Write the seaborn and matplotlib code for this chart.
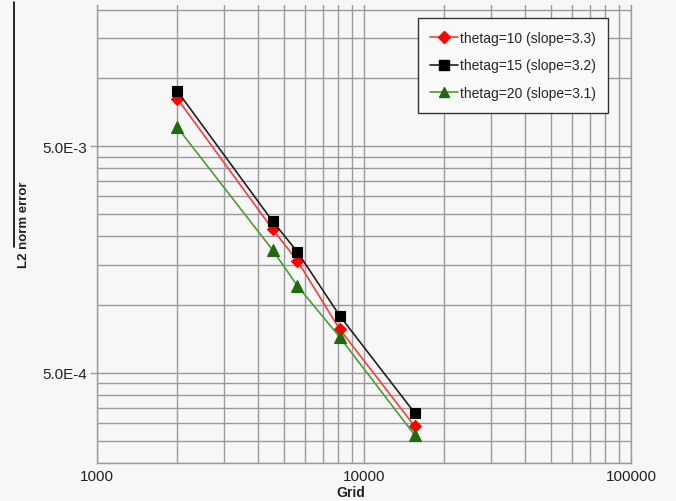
import matplotlib
matplotlib.use("Agg")
import matplotlib.pyplot as plt
from matplotlib.lines import Line2D
from matplotlib.ticker import FixedLocator, FixedFormatter, NullFormatter
import seaborn as sns
import pandas as pd

# Grid sizes and L2 error norms for each thetag value
grid = [2000, 4550, 5630, 8100, 15500]
err_thetag10 = [8.1e-3, 2.15e-3, 1.56e-3, 7.8e-4, 2.9e-4]
err_thetag15 = [8.75e-3, 2.33e-3, 1.71e-3, 8.95e-4, 3.32e-4]
err_thetag20 = [6.05e-3, 1.74e-3, 1.21e-3, 7.2e-4, 2.65e-4]
labels = ["thetag=10 (slope=3.3)", "thetag=15 (slope=3.2)", "thetag=20 (slope=3.1)"]

x_ticks = [1000, 10000, 100000]
x_tick_labels = ["1000", "10000", "100000"]
y_ticks = [5e-4, 5e-3]
y_tick_labels = ["5.0E-4", "5.0E-3"]
y_minor = [2e-4, 2.5e-4, 3e-4, 3.5e-4, 4e-4, 4.5e-4, 1e-3, 1.5e-3,
           2e-3, 2.5e-3, 3e-3, 3.5e-3, 4e-3, 4.5e-3, 1e-2, 1.5e-2, 2e-2]

sns.set_theme(style="white")
plt.rcParams["font.family"] = ["Liberation Sans", "DejaVu Sans"]

fig = plt.figure(figsize=(6.76, 5.02), dpi=100, facecolor="#f7f7f7")
ax = fig.add_axes([97 / 676, 1 - 464 / 502, (631 - 97) / 676, (464 - 6) / 502])
ax.set_facecolor("#f7f7f7")

styles = [
    dict(color="#ff3a3a", marker="D", ms=6.5, mfc="#ff0000", mec="#ff0000"),
    dict(color="#202020", marker="s", ms=7.5, mfc="#000000", mec="#000000"),
    dict(color="#4f9a35", marker="^", ms=8, mfc="#1f6a0c", mec="#1f6a0c"),
]

handles = []
for errs, lab, st in zip([err_thetag10, err_thetag15, err_thetag20], labels, styles):
    df = pd.DataFrame({"Grid": grid, "err": errs})
    sns.lineplot(data=df, x="Grid", y="err", ax=ax, color=st["color"], lw=1.2,
                 marker=st["marker"], markersize=st["ms"],
                 markerfacecolor=st["mfc"], markeredgecolor=st["mec"],
                 markeredgewidth=0.8, zorder=3)
    handles.append(Line2D([], [], color=st["color"], lw=1.2, marker=st["marker"],
                          markersize=st["ms"] - 0.5, markerfacecolor=st["mfc"],
                          markeredgecolor=st["mec"], label=lab))

ax.set_xscale("log")
ax.set_yscale("log")
ax.set_xlim(1000, 100000)
ax.set_ylim(2e-4, 2.1e-2)

ax.xaxis.set_major_locator(FixedLocator(x_ticks))
ax.xaxis.set_major_formatter(FixedFormatter(x_tick_labels))
ax.xaxis.set_minor_formatter(NullFormatter())
ax.yaxis.set_major_locator(FixedLocator(y_ticks))
ax.yaxis.set_major_formatter(FixedFormatter(y_tick_labels))
ax.yaxis.set_minor_locator(FixedLocator(y_minor))
ax.yaxis.set_minor_formatter(NullFormatter())

gcol = "#9a9a9a"
ax.grid(True, which="both", color=gcol, lw=1.0)
for side in ["left", "bottom", "right"]:
    ax.spines[side].set_color(gcol)
    ax.spines[side].set_linewidth(1.0)
ax.spines["top"].set_visible(False)

ax.tick_params(axis="y", which="major", left=True, length=5, width=1, color=gcol,
               labelsize=11, pad=2, labelcolor="#222222")
ax.tick_params(axis="y", which="minor", left=False, length=0)
ax.tick_params(axis="x", which="both", bottom=False, length=0, labelsize=11,
               pad=4, labelcolor="#222222")

ax.set_xlabel("Grid", fontsize=10, fontweight="bold", color="#222222")
ax.set_ylabel("L2 norm error", fontsize=9.5, fontweight="bold", color="#222222")
ax.xaxis.set_label_coords(254 / 534, -0.048)
ax.yaxis.set_label_coords(-0.125, 0.522)

leg = ax.legend(handles=handles, loc="upper right",
                bbox_to_anchor=(608 / 534 - 97 / 534, 1 - 13 / 458),
                fontsize=10, frameon=True, fancybox=False, framealpha=1,
                edgecolor="#333333", facecolor="#f9f9f9", borderpad=0.9,
                labelspacing=1.0, handlelength=2.0, handletextpad=0.1,
                borderaxespad=0)
leg.get_frame().set_linewidth(1.0)

fig.add_artist(Line2D([14 / 676, 14 / 676], [1 - 3 / 502, 1 - 248 / 502],
                      color="black", lw=1.2))

fig.savefig("out.png", dpi=100, facecolor=fig.get_facecolor())
